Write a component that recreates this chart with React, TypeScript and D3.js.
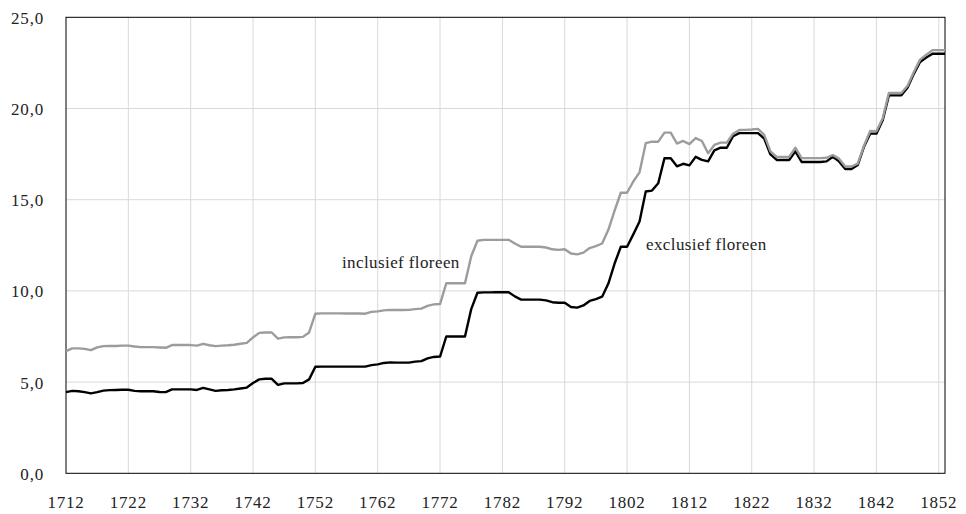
import React, { useEffect } from 'react'
import * as d3 from 'd3'

// jaren 1712 t/m 1853
const startYear = 1712
const exclusief = [
  4.45, 4.52, 4.5, 4.45, 4.38, 4.45, 4.53, 4.56, 4.57, 4.58,
  4.58, 4.52, 4.5, 4.5, 4.5, 4.46, 4.45, 4.6, 4.6, 4.6,
  4.6, 4.57, 4.68, 4.6, 4.52, 4.55, 4.57, 4.6, 4.65, 4.7,
  4.95, 5.15, 5.18, 5.18, 4.85, 4.93, 4.93, 4.93, 4.95, 5.15,
  5.84, 5.85, 5.85, 5.85, 5.85, 5.85, 5.85, 5.85, 5.85, 5.93,
  5.97, 6.05, 6.08, 6.07, 6.07, 6.07, 6.12, 6.15, 6.3, 6.38,
  6.4, 7.5, 7.5, 7.5, 7.5, 9.0, 9.9, 9.92, 9.92, 9.93,
  9.93, 9.93, 9.7, 9.52, 9.52, 9.52, 9.52, 9.48, 9.38, 9.35,
  9.35, 9.12, 9.08, 9.2, 9.45, 9.55, 9.68, 10.4, 11.5, 12.42,
  12.42, 13.1, 13.8, 15.45, 15.5, 15.9, 17.27, 17.27, 16.83, 16.97,
  16.88, 17.35, 17.18, 17.1, 17.7, 17.85, 17.85, 18.48, 18.65, 18.65,
  18.65, 18.65, 18.35, 17.48, 17.18, 17.18, 17.18, 17.65, 17.07, 17.07,
  17.07, 17.07, 17.1, 17.35, 17.1, 16.68, 16.68, 16.9, 17.9, 18.62,
  18.62, 19.35, 20.72, 20.72, 20.72, 21.15, 21.9, 22.55, 22.8, 23.0,
  23.0, 23.0,
]
const inclusief = [
  6.7, 6.85, 6.85, 6.82, 6.75, 6.9, 6.97, 6.98, 6.98, 7.0,
  7.0, 6.95, 6.92, 6.92, 6.92, 6.9, 6.88, 7.03, 7.03, 7.03,
  7.03, 7.0, 7.1, 7.02, 6.97, 7.0, 7.02, 7.05, 7.1, 7.15,
  7.45, 7.7, 7.72, 7.72, 7.38, 7.45, 7.46, 7.46, 7.48, 7.72,
  8.75, 8.77, 8.77, 8.77, 8.77, 8.76, 8.76, 8.76, 8.75, 8.85,
  8.88, 8.93, 8.96, 8.95, 8.95, 8.96, 9.0, 9.03, 9.18, 9.26,
  9.28, 10.42, 10.42, 10.42, 10.42, 11.9, 12.75, 12.8, 12.8, 12.8,
  12.8, 12.8, 12.6, 12.42, 12.42, 12.42, 12.42, 12.38, 12.28, 12.25,
  12.28, 12.05, 12.0, 12.1, 12.35, 12.45, 12.6, 13.35, 14.4, 15.38,
  15.38, 16.0, 16.5, 18.1, 18.18, 18.18, 18.68, 18.68, 18.08, 18.22,
  18.05, 18.38, 18.22, 17.55, 18.0, 18.13, 18.13, 18.62, 18.82, 18.83,
  18.85, 18.88, 18.55, 17.65, 17.35, 17.35, 17.35, 17.85, 17.28, 17.28,
  17.28, 17.28, 17.3, 17.45, 17.25, 16.82, 16.82, 16.98, 17.95, 18.77,
  18.75, 19.45, 20.85, 20.85, 20.85, 21.25, 22.0, 22.68, 22.95, 23.2,
  23.2, 23.2,
]
const yTicks = [0, 5, 10, 15, 20, 25]
const xTicks = [1712, 1722, 1732, 1742, 1752, 1762, 1772, 1782, 1792, 1802, 1812, 1822, 1832, 1842, 1852]

const W = 966
const H = 514
const FONT = '"Liberation Serif", "Times New Roman", serif'

export default function App() {
  useEffect(() => {
    document.body.style.margin = '0'
  }, [])

  const x = d3.scaleLinear().domain([startYear, startYear + exclusief.length - 1]).range([66, 945])
  const y = d3.scaleLinear().domain([0, 25]).range([473.3, 17.3])

  const line = d3.line<number>()
    .x((_, i) => x(startYear + i))
    .y(d => y(d))

  const [x0, x1] = x.range()
  const [y0, y1] = y.range()

  return (
    <svg width={W} height={H} style={{ display: 'block', background: '#fff' }}>
      {yTicks.filter(t => t > 0 && t < 25).map(t => (
        <line key={'gy' + t} x1={x0} x2={x1} y1={y(t)} y2={y(t)} stroke="#d9d9d9" strokeWidth={1} />
      ))}
      {xTicks.filter(t => t > startYear).map(t => (
        <line key={'gx' + t} x1={x(t)} x2={x(t)} y1={y1} y2={y0} stroke="#d9d9d9" strokeWidth={1} />
      ))}
      <rect x={x0} y={y1} width={x1 - x0} height={y0 - y1} fill="none" stroke="#000" strokeWidth={1} />

      <path d={line(exclusief) || ''} fill="none" stroke="#000" strokeWidth={2.4} strokeLinejoin="round" />
      <path d={line(inclusief) || ''} fill="none" stroke="#9c9c9c" strokeWidth={2.4} strokeLinejoin="round" />

      {yTicks.map(t => (
        <text key={'ty' + t} x={44} y={y(t) + 6.5} textAnchor="end" fontFamily={FONT} fontSize={17}
          letterSpacing={0.8} fill="#222">
          {d3.format('.1f')(t).replace('.', ',')}
        </text>
      ))}
      {xTicks.map(t => (
        <text key={'tx' + t} x={x(t)} y={508} textAnchor="middle" fontFamily={FONT} fontSize={17}
          letterSpacing={0.8} fill="#222">
          {t}
        </text>
      ))}

      <text x={342} y={268} fontFamily={FONT} fontSize={17} letterSpacing={0.4} fill="#222">inclusief floreen</text>
      <text x={646} y={250} fontFamily={FONT} fontSize={17} letterSpacing={0.4} fill="#222">exclusief floreen</text>
    </svg>
  )
}
